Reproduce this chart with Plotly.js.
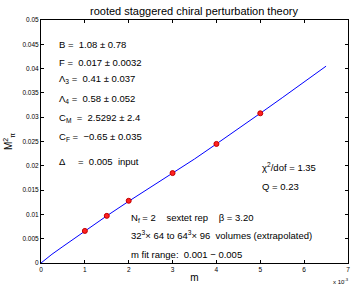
<!DOCTYPE html>
<html><head><meta charset="utf-8">
<script src="https://cdn.plot.ly/plotly-3.0.1.min.js"></script>
<style>html,body{margin:0;padding:0;background:#fff}</style>
</head><body><div id="chart" style="width:354px;height:287px"></div>
<script>
// data (m in units of 1e-3)
const massPoints = [1, 1.5, 2, 3, 4, 5];
const mpiSqPoints = [0.0066, 0.0097, 0.0128, 0.0185, 0.0245, 0.0308];
const fitMass = [0, 0.25, 0.5, 1, 1.5, 2, 2.5, 3, 3.5, 4, 4.5, 5, 5.5, 6, 6.5];
const fitMpiSq = [0, 0.0018, 0.0034, 0.0066, 0.0097, 0.0127, 0.0156, 0.0185, 0.0214, 0.0245, 0.0276, 0.0308, 0.0340, 0.0372, 0.0405];
const xTicks = [0, 1, 2, 3, 4, 5, 6, 7];
const yTicks = [0, 0.005, 0.01, 0.015, 0.02, 0.025, 0.03, 0.035, 0.04, 0.045, 0.05];
const yTickLabels = ['0', '0.005', '0.01', '0.015', '0.02', '0.025', '0.03', '0.035', '0.04', '0.045', '0.05'];

const font = 'Liberation Sans, Arial, sans-serif';
const traces = [
  {x: fitMass, y: fitMpiSq, mode: 'lines', line: {color: '#0000ff', width: 1}, hoverinfo: 'skip'},
  {x: massPoints, y: mpiSqPoints, mode: 'markers',
   marker: {color: '#ff2020', size: 5, line: {color: '#c00000', width: 1}}}
];
function ann(x, y, text, size) {
  return {xref: 'paper', yref: 'paper', x: x, y: y, text: text, showarrow: false,
          xanchor: 'left', yanchor: 'middle', font: {family: font, size: size || 9.5, color: '#000'}};
}
const W = 307, H = 243, L = 41, T = 20;
function px(xp) { return (xp - L) / W; }
function py(yp) { return 1 - (yp - T) / H; }
const annotations = [
  ann(px(57), py(44), 'B =  1.08 ± 0.78'),
  ann(px(57), py(63), 'F =  0.017 ± 0.0032'),
  ann(px(57), py(79), 'Λ<sub>3</sub> =  0.41 ± 0.037'),
  ann(px(57), py(99), 'Λ<sub>4</sub> =  0.58 ± 0.052'),
  ann(px(57), py(118), 'C<sub>M</sub>  =  2.5292 ± 2.4'),
  ann(px(57), py(137), 'C<sub>F</sub> =  −0.65 ± 0.035'),
  ann(px(57), py(161), 'Δ     =  0.005  input'),
  ann(px(260), py(167), 'χ<sup>2</sup>/dof = 1.35'),
  ann(px(260), py(186), 'Q = 0.23'),
  ann(px(129), py(218), 'N<sub>f</sub> = 2    sextet rep    β = 3.20'),
  ann(px(129), py(235), '32<sup>3</sup>× 64 to 64<sup>3</sup>× 96  volumes (extrapolated)'),
  ann(px(129), py(254), 'm fit range:  0.001 − 0.005'),
  {xref: 'paper', yref: 'paper', x: px(331), y: py(281), text: 'x 10<sup>-3</sup>', showarrow: false,
   xanchor: 'left', yanchor: 'middle', font: {family: font, size: 6, color: '#000'}}
];
const axisCommon = {showgrid: false, zeroline: false, showline: true, linecolor: '#000', linewidth: 1,
  mirror: 'ticks', ticks: 'inside', ticklen: 3, tickcolor: '#000', tickfont: {family: font, size: 6.5, color: '#000'}};
const layout = {
  width: 354, height: 287, margin: {l: 41, r: 6, t: 20, b: 24},
  paper_bgcolor: '#fff', plot_bgcolor: '#fff', showlegend: false,
  title: {text: 'rooted staggered chiral perturbation theory', x: 0.548, xanchor: 'center', y: 0.962, yanchor: 'middle',
          font: {family: font, size: 11, color: '#000'}},
  xaxis: Object.assign({}, axisCommon, {range: [0, 7], tickvals: xTicks, ticktext: xTicks.map(String),
    title: {text: 'm', font: {family: font, size: 10, color: '#000'}, standoff: 2}}),
  yaxis: Object.assign({}, axisCommon, {range: [0, 0.05], tickvals: yTicks, ticktext: yTickLabels,
    title: {text: 'M<sup>2</sup><sub>π</sub>', font: {family: font, size: 10, color: '#000'}, standoff: 7}}),
  annotations: annotations
};
Plotly.newPlot('chart', traces, layout, {displayModeBar: false, staticPlot: true});
</script></body></html>
